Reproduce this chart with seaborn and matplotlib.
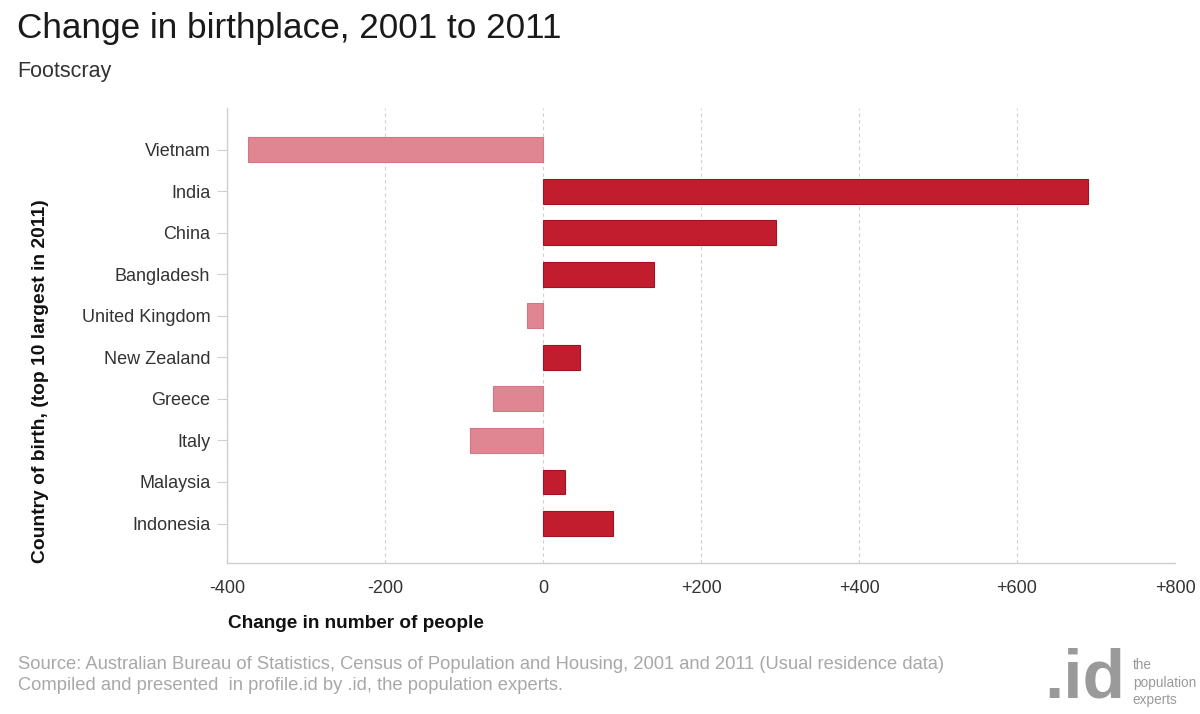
import matplotlib
matplotlib.use("Agg")
import matplotlib.pyplot as plt
import seaborn as sns
import pandas as pd

# Data
countries = ["Vietnam", "India", "China", "Bangladesh", "United Kingdom",
             "New Zealand", "Greece", "Italy", "Malaysia", "Indonesia"]
change = [-373, 690, 295, 141, -20, 47, -63, -92, 28, 88]
x_ticks = [-400, -200, 0, 200, 400, 600, 800]
x_tick_labels = ["-400", "-200", "0", "+200", "+400", "+600", "+800"]

pos_color = "#C21D2F"
neg_color = "#E08592"

sns.set_theme(style="white")
plt.rcParams["font.family"] = ["Liberation Sans", "DejaVu Sans"]

df = pd.DataFrame({"country": countries, "change": change})
df["sign"] = ["up" if v >= 0 else "down" for v in df["change"]]

fig = plt.figure(figsize=(12, 7.14), dpi=100)
ax = fig.add_axes([0.1892, 0.2115, 0.790, 0.637])

sns.barplot(data=df, x="change", y="country", hue="sign", orient="h",
            palette={"up": pos_color, "down": neg_color}, dodge=False,
            width=0.6, legend=False, ax=ax, saturation=1)

# darker outline on the bars
for patch in ax.patches:
    if patch.get_width() >= 0:
        patch.set_edgecolor("#9E1422")
    else:
        patch.set_edgecolor("#D27585")
    patch.set_linewidth(0.8)

ax.set_xlim(-400, 800)
ax.set_ylim(9.95, -1.0)
ax.set_xticks(x_ticks)
ax.set_xticklabels(x_tick_labels)
ax.xaxis.grid(True, linestyle=(0, (3, 3)), color="#cfcfcf", linewidth=0.8)
ax.yaxis.grid(False)
ax.set_axisbelow(True)

for side in ["top", "right"]:
    ax.spines[side].set_visible(False)
ax.spines["left"].set_color("#cdd0d8")
ax.spines["bottom"].set_color("#cfcfcf")
ax.spines["left"].set_linewidth(1.0)
ax.spines["bottom"].set_linewidth(1.0)

ax.tick_params(axis="y", left=True, length=7, width=0.8, color="#d0d0d0",
               labelsize=13, labelcolor="#333333", pad=5)
ax.tick_params(axis="x", bottom=False, labelsize=13, labelcolor="#333333", pad=6)

ax.set_xlabel("")
ax.set_ylabel("")

fig.text(0.19, 0.127, "Change in number of people", fontsize=13.7,
         fontweight="bold", color="#111111", ha="left", va="center")
fig.text(0.034, 0.466, "Country of birth, (top 10 largest in 2011)", fontsize=13.9,
         fontweight="bold", color="#111111", rotation=90, ha="center", va="center")

fig.text(0.014, 0.9468, "Change in birthplace, 2001 to 2011", fontsize=25.3,
         color="#1a1a1a", ha="left", va="baseline")
fig.text(0.014, 0.892, "Footscray", fontsize=15.5, color="#333333",
         ha="left", va="baseline")

fig.text(0.015, 0.070, "Source: Australian Bureau of Statistics, Census of Population and Housing, 2001 and 2011 (Usual residence data)",
         fontsize=13.2, color="#a8a8a8", ha="left", va="center")
fig.text(0.015, 0.040, "Compiled and presented  in profile.id by .id, the population experts.",
         fontsize=13.2, color="#a8a8a8", ha="left", va="center")

# .id logo
fig.text(0.870, 0.003, ".id", fontsize=50, fontweight="bold", color="#9a9a9a",
         ha="left", va="bottom")
fig.text(0.944, 0.044, "the\npopulation\nexperts", fontsize=9.8, color="#9a9a9a",
         ha="left", va="center", linespacing=1.3)

fig.savefig("out.png", dpi=100, facecolor="white")
